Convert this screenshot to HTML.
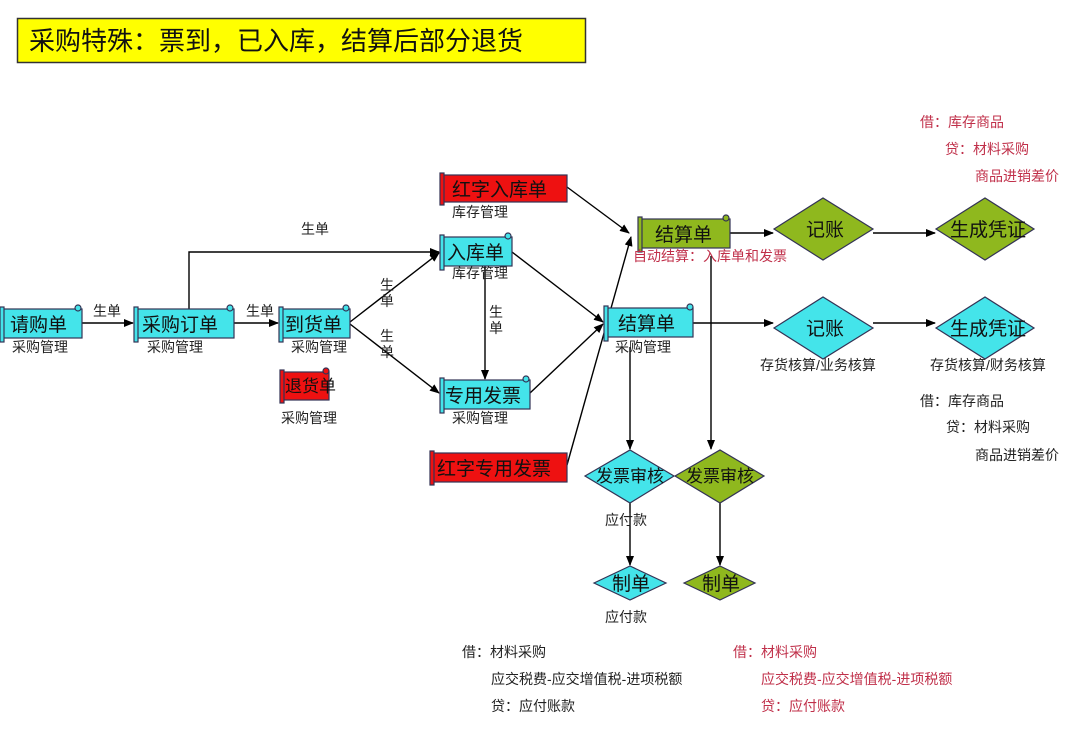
<!DOCTYPE html>
<html><head><meta charset="utf-8"><style>
html,body{margin:0;padding:0;background:#fff;}
svg{display:block;}
text{font-family:"Liberation Sans","Noto Sans CJK SC",sans-serif;}
.n{font-size:19px;fill:#111;}
.s{font-size:17px;fill:#111;}
.l{font-size:14px;fill:#222;}
.r{font-size:14px;fill:#c0304a;}
</style></head><body>
<svg width="1080" height="732" viewBox="0 0 1080 732" xmlns="http://www.w3.org/2000/svg">
<defs>
<marker id="a" markerWidth="10" markerHeight="8" refX="9" refY="4" orient="auto" markerUnits="userSpaceOnUse">
<path d="M0,0 L10,4 L0,8 z" fill="#000"/></marker>
</defs>
<rect x="17.5" y="18.5" width="568" height="44" fill="#ffff00" stroke="#333" stroke-width="1.5"/>
<text x="29" y="50" style="font-size:26px;fill:#111">采购特殊：票到，已入库，结算后部分退货</text>

<g stroke="#000" stroke-width="1.4" fill="none">
<line x1="82" y1="323" x2="133" y2="323" marker-end="url(#a)"/>
<line x1="234" y1="323" x2="278" y2="323" marker-end="url(#a)"/>
<polyline points="189,309 189,252 439,252" marker-end="url(#a)"/>
<line x1="350" y1="322" x2="439" y2="253" marker-end="url(#a)"/>
<line x1="350" y1="324" x2="439" y2="393" marker-end="url(#a)"/>
<line x1="485" y1="266" x2="485" y2="379" marker-end="url(#a)"/>
<line x1="512" y1="252" x2="603" y2="322" marker-end="url(#a)"/>
<line x1="530" y1="393" x2="603" y2="324" marker-end="url(#a)"/>
<line x1="567" y1="187" x2="629" y2="233" marker-end="url(#a)"/>
<line x1="567" y1="465" x2="631" y2="237" marker-end="url(#a)"/>
<line x1="730" y1="233" x2="773" y2="233" marker-end="url(#a)"/>
<line x1="873" y1="233" x2="935" y2="233" marker-end="url(#a)"/>
<line x1="693" y1="323" x2="773" y2="323" marker-end="url(#a)"/>
<line x1="873" y1="323" x2="935" y2="323" marker-end="url(#a)"/>
<line x1="630" y1="347" x2="630" y2="449" marker-end="url(#a)"/>
<line x1="711" y1="256" x2="711" y2="449" marker-end="url(#a)"/>
<line x1="630" y1="503" x2="630" y2="565" marker-end="url(#a)"/>
<line x1="720" y1="503" x2="720" y2="565" marker-end="url(#a)"/>
</g>

<g stroke="#335" stroke-width="1.2">
<rect x="3" y="309" width="79" height="29" fill="#44e4ea"/><rect x="0" y="307" width="4" height="35" fill="#44e4ea"/><circle cx="78" cy="308" r="3" fill="#44e4ea"/>
<rect x="137" y="309" width="97" height="29" fill="#44e4ea"/><rect x="134" y="307" width="4" height="35" fill="#44e4ea"/><circle cx="230" cy="308" r="3" fill="#44e4ea"/>
<rect x="282" y="309" width="68" height="29" fill="#44e4ea"/><rect x="279" y="307" width="4" height="35" fill="#44e4ea"/><circle cx="346" cy="308" r="3" fill="#44e4ea"/>
<rect x="283" y="372" width="46" height="28" fill="#ee1111"/><rect x="280" y="370" width="4" height="33" fill="#ee1111"/><circle cx="326" cy="371" r="3" fill="#ee1111"/>
<rect x="443" y="237" width="69" height="29" fill="#44e4ea"/><rect x="440" y="235" width="4" height="35" fill="#44e4ea"/><circle cx="508" cy="236" r="3" fill="#44e4ea"/>
<rect x="443" y="380" width="87" height="29" fill="#44e4ea"/><rect x="440" y="378" width="4" height="35" fill="#44e4ea"/><circle cx="526" cy="379" r="3" fill="#44e4ea"/>
<rect x="443" y="175" width="124" height="27" fill="#ee1111"/><rect x="440" y="173" width="4" height="32" fill="#ee1111"/>
<rect x="433" y="453" width="134" height="29" fill="#ee1111"/><rect x="430" y="451" width="4" height="34" fill="#ee1111"/>
<rect x="641" y="219" width="89" height="29" fill="#8fb81e"/><rect x="638" y="217" width="4" height="35" fill="#8fb81e"/><circle cx="726" cy="218" r="3" fill="#8fb81e"/>
<rect x="607" y="308" width="86" height="29" fill="#44e4ea"/><rect x="604" y="306" width="4" height="35" fill="#44e4ea"/><circle cx="690" cy="307" r="3" fill="#44e4ea"/>
<polygon points="774,229 823,198 873,229 823,260" fill="#8fb81e"/>
<polygon points="936,229 985,198 1034,229 985,260" fill="#8fb81e"/>
<polygon points="774,328 823,297 873,328 823,359" fill="#44e4ea"/>
<polygon points="936,328 985,297 1034,328 985,359" fill="#44e4ea"/>
<polygon points="585,476 630,450 674,476 630,503" fill="#44e4ea"/>
<polygon points="675,476 720,450 764,476 720,503" fill="#8fb81e"/>
<polygon points="594,583 630,566 666,583 630,600" fill="#44e4ea"/>
<polygon points="684,583 720,566 755,583 720,600" fill="#8fb81e"/>
</g>

<text class="n" x="10" y="331">请购单</text>
<text class="n" x="142" y="331">采购订单</text>
<text class="n" x="285" y="331">到货单</text>
<text class="s" x="285" y="392">退货单</text>
<text class="n" x="447" y="259">入库单</text>
<text class="n" x="445" y="402">专用发票</text>
<text class="n" x="452" y="196">红字入库单</text>
<text class="n" x="437" y="475">红字专用发票</text>
<text class="n" x="655" y="241">结算单</text>
<text class="n" x="618" y="330">结算单</text>
<text class="n" x="806" y="236">记账</text>
<text class="n" x="950" y="236">生成凭证</text>
<text class="n" x="806" y="335">记账</text>
<text class="n" x="950" y="335">生成凭证</text>
<text class="s" x="596" y="482">发票审核</text>
<text class="s" x="686" y="482">发票审核</text>
<text class="n" x="612" y="590">制单</text>
<text class="n" x="702" y="590">制单</text>

<text class="l" x="12" y="352">采购管理</text>
<text class="l" x="147" y="352">采购管理</text>
<text class="l" x="291" y="352">采购管理</text>
<text class="l" x="281" y="423">采购管理</text>
<text class="l" x="452" y="278">库存管理</text>
<text class="l" x="452" y="423">采购管理</text>
<text class="l" x="452" y="217">库存管理</text>
<text class="l" x="615" y="352">采购管理</text>
<text class="r" x="633" y="261">自动结算：入库单和发票</text>
<text class="l" x="93" y="316">生单</text>
<text class="l" x="246" y="316">生单</text>
<text class="l" x="301" y="234">生单</text>
<text class="l" x="380" y="290">生</text><text class="l" x="380" y="306">单</text>
<text class="l" x="380" y="341">生</text><text class="l" x="380" y="357">单</text>
<text class="l" x="489" y="317">生</text><text class="l" x="489" y="333">单</text>
<text class="l" x="760" y="370">存货核算/业务核算</text>
<text class="l" x="930" y="370">存货核算/财务核算</text>
<text class="l" x="605" y="525">应付款</text>
<text class="l" x="605" y="622">应付款</text>

<text class="r" x="920" y="127">借：库存商品</text>
<text class="r" x="945" y="154">贷：材料采购</text>
<text class="r" x="975" y="181">商品进销差价</text>
<text class="l" x="920" y="406">借：库存商品</text>
<text class="l" x="946" y="432">贷：材料采购</text>
<text class="l" x="975" y="460">商品进销差价</text>

<text class="l" x="462" y="657">借：材料采购</text>
<text class="l" x="491" y="684">应交税费-应交增值税-进项税额</text>
<text class="l" x="491" y="711">贷：应付账款</text>
<text class="r" x="733" y="657">借：材料采购</text>
<text class="r" x="761" y="684">应交税费-应交增值税-进项税额</text>
<text class="r" x="761" y="711">贷：应付账款</text>
</svg>
</body></html>
